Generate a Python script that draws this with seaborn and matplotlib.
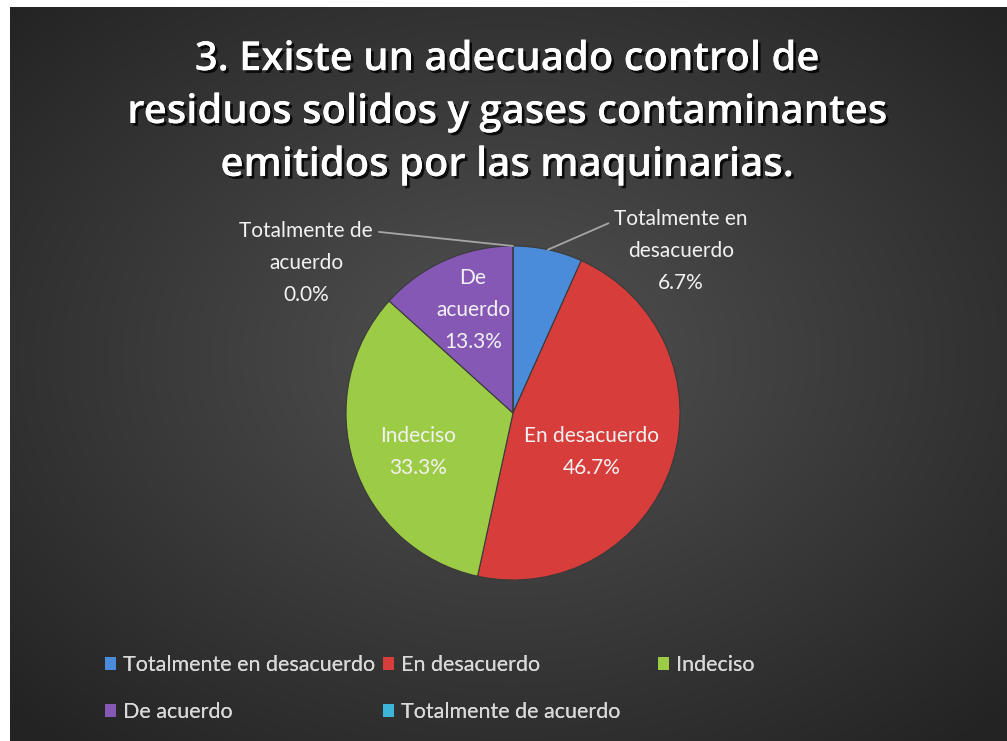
import numpy as np
import matplotlib
matplotlib.use("Agg")
import matplotlib.pyplot as plt
import matplotlib.patheffects as pe
from matplotlib.patches import Patch
import seaborn as sns

categories = ["Totalmente en desacuerdo", "En desacuerdo", "Indeciso", "De acuerdo", "Totalmente de acuerdo"]
percentages = [6.7, 46.7, 33.3, 13.3, 0.0]
colors = ["#4A8BDA", "#D63D3B", "#9CCB46", "#8558B6", "#3DB5D8"]
label_names = ["Totalmente en\ndesacuerdo", "En desacuerdo", "Indeciso", "De\nacuerdo", "Totalmente de\nacuerdo"]
title = "3. Existe un adecuado control de\nresiduos solidos y gases contaminantes\nemitidos por las maquinarias."

sns.set_theme(style="white")
plt.rcParams['font.family'] = ['Lato', 'DejaVu Sans']

W, H = 1007, 741
fig = plt.figure(figsize=(W / 100, H / 100), dpi=100)
fig.patch.set_facecolor("white")

# background with radial gradient
bg = fig.add_axes([10 / W, 0, (W - 10) / W, (H - 7) / H])
bg.set_axis_off()
yy, xx = np.mgrid[0:400, 0:540]
cx, cy = 270, 190
d = np.sqrt(((xx - cx) / 540) ** 2 + ((yy - cy) / 400) ** 2) / 0.7
d = np.clip(d, 0, 1)
c0 = np.array([0x52, 0x52, 0x52]) / 255
c1 = np.array([0x23, 0x23, 0x23]) / 255
img = c0[None, None, :] * (1 - d[..., None]) + c1[None, None, :] * d[..., None]
bg.imshow(img, aspect="auto", extent=[0, 1, 0, 1], interpolation="bilinear")
bg.set_xlim(0, 1)
bg.set_ylim(0, 1)

# title
fig.text(507 / W, 1 - 113 / H, title, ha="center", va="center", color="white",
         fontsize=28.8, fontweight="semibold", linespacing=1.43, family=["Open Sans", "DejaVu Sans"],
         path_effects=[pe.withSimplePatchShadow(offset=(2, -2), shadow_rgbFace="black", alpha=0.8), pe.Normal()])

# pie axes
cxp, cyp, R = 513, 413, 167
ax = fig.add_axes([(cxp - R) / W, (H - cyp - R) / H, 2 * R / W, 2 * R / H])
ax.set_axis_off()
wedges, _ = ax.pie(percentages, colors=colors, startangle=90, counterclock=False,
                   radius=1, wedgeprops=dict(edgecolor="#3a3a3a", linewidth=0.8))
ax.set_xlim(-1, 1)
ax.set_ylim(-1, 1)
ax.set_aspect("equal")

def px(x, y):
    return ((x - cxp) / R, (cyp - y) / R)

txt_kw = dict(ha="center", va="center", color="#F2F2F2", fontsize=15, linespacing=1.75)

# inside labels
inside = {1: (592, 452), 2: (418, 452), 3: (473, 310)}
for i, (x, y) in inside.items():
    ax.text(*px(x, y), f"{label_names[i]}\n{percentages[i]:.1f}%", **txt_kw)

# outside labels with leader lines
def edge_point(w):
    th = np.deg2rad((w.theta1 + w.theta2) / 2)
    return (np.cos(th), np.sin(th))

ax.annotate(f"{label_names[0]}\n{percentages[0]:.1f}%", xy=edge_point(wedges[0]), xytext=px(681, 251),
            arrowprops=dict(arrowstyle="-", color="#A6A6A6", lw=1.3,
                            connectionstyle="arc3,rad=0",
                            relpos=(0.0, 0.86), shrinkA=2, shrinkB=0),
            annotation_clip=False, **txt_kw)
ax.annotate(f"{label_names[4]}\n{percentages[4]:.1f}%", xy=edge_point(wedges[4]), xytext=px(306, 263),
            arrowprops=dict(arrowstyle="-", color="#A6A6A6", lw=1.3,
                            connectionstyle="angle,angleA=0,angleB=-6,rad=0",
                            relpos=(1.0, 0.9), shrinkA=2, shrinkB=0),
            annotation_clip=False, **txt_kw)

# legend: one entry per slot, laid out like Excel's legend grid
slots = [(105, 665), (383, 665), (658, 665), (105, 712), (383, 712)]
for i, (x, y) in enumerate(slots):
    lg = fig.legend([Patch(facecolor=colors[i], edgecolor="none")], [categories[i]],
                    loc="center left", bbox_to_anchor=(x / W, 1 - y / H),
                    frameon=False, fontsize=15.5, labelcolor="#D9D9D9",
                    handlelength=0.5, handleheight=0.55, handletextpad=0.35,
                    borderaxespad=0, borderpad=0)
    fig.add_artist(lg)

fig.savefig("out.png", dpi=100, facecolor=fig.get_facecolor())
